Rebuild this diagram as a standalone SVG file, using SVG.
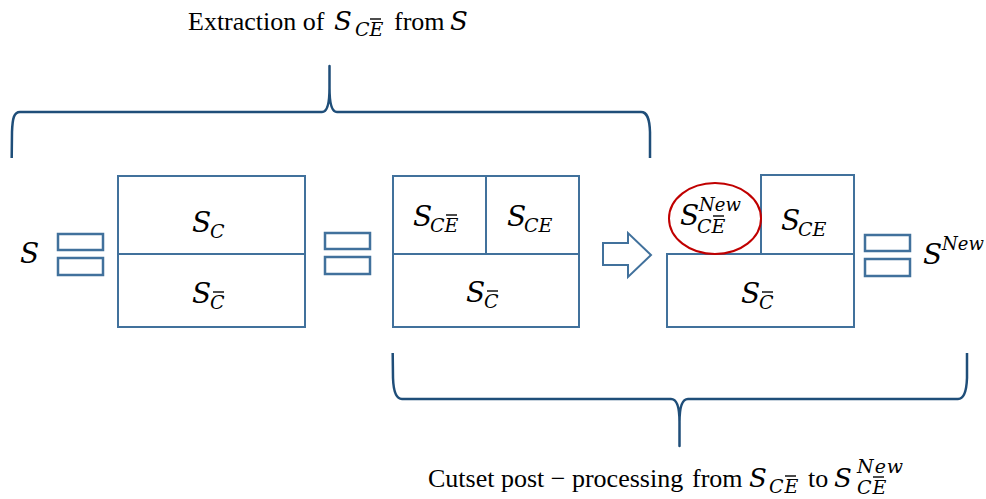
<svg xmlns="http://www.w3.org/2000/svg" width="986" height="499" viewBox="0 0 986 499">
  <style>
    .box { fill: #ffffff; stroke: #41719c; stroke-width: 2; }
    .eq { fill: #ffffff; stroke: #41719c; stroke-width: 2.5; }
    .brace { fill: none; stroke: #1f4e79; stroke-width: 2.5; stroke-linejoin: round; }
    .lbl { font-family: "Liberation Serif", "Times New Roman", serif; font-size: 26px; fill: #000; }
    .m { font-family: "DejaVu Serif", "Liberation Serif", serif; font-style: italic; fill: #000; }
    .big { font-size: 28px; }
    .cap { font-size: 26px; }
    .sub { font-size: 19px; }
    .sup { font-size: 18px; }
    .bar { stroke: #000; stroke-width: 1.4; }
  </style>

  <!-- captions -->
  <g id="caption-top">
    <text class="lbl" x="188" y="30">Extraction of</text>
    <text class="m cap" x="334" y="30">S</text>
    <text class="m sub" x="355" y="36">CE</text>
    <line class="bar" x1="370" y1="19" x2="381" y2="19"/>
    <text class="lbl" x="394" y="30">from</text>
    <text class="m cap" x="450" y="30">S</text>
  </g>

  <g id="caption-bottom">
    <text class="lbl" x="428" y="487">Cutset post − processing</text>
    <text class="lbl" x="692" y="487">from</text>
    <text class="m cap" x="749" y="487">S</text>
    <text class="m sub" x="769" y="493" letter-spacing="1">CE</text>
    <line class="bar" x1="785" y1="476" x2="796" y2="476"/>
    <text class="lbl" x="808" y="487">to</text>
    <text class="m cap" x="834" y="487">S</text>
    <text class="m sub" x="857" y="473" font-size="20" letter-spacing="1">New</text>
    <text class="m sub" x="857" y="494" letter-spacing="1">CE</text>
    <line class="bar" x1="873" y1="477" x2="884" y2="477"/>
  </g>

  <!-- S -->
  <g id="set-s">
    <text class="m big" x="20" y="263">S</text>
  </g>

  <g id="eq-1">
    <rect class="eq" x="58" y="234" width="45" height="16"/>
    <rect class="eq" x="58" y="258" width="45" height="17"/>
  </g>

  <!-- S split into S_C and S_C-bar -->
  <g id="box-1">
    <rect class="box" x="118" y="176" width="187" height="151"/>
    <line class="box" x1="118" y1="254" x2="305" y2="254"/>
    <text class="m big" x="192" y="232">S</text>
    <text class="m sub" x="210" y="238">C</text>
    <text class="m big" x="192" y="303">S</text>
    <text class="m sub" x="210" y="309">C</text>
    <line class="bar" x1="213" y1="292" x2="224" y2="292"/>
  </g>

  <g id="eq-2">
    <rect class="eq" x="325" y="233" width="45" height="16"/>
    <rect class="eq" x="325" y="257" width="45" height="17"/>
  </g>

  <!-- S_C split into S_CE-bar and S_CE -->
  <g id="box-2">
    <rect class="box" x="393" y="176" width="186" height="151"/>
    <line class="box" x1="393" y1="254" x2="579" y2="254"/>
    <line class="box" x1="486" y1="176" x2="486" y2="254"/>
    <text class="m big" x="413" y="226">S</text>
    <text class="m sub" x="430" y="232">CE</text>
    <line class="bar" x1="446" y1="215" x2="457" y2="215"/>
    <text class="m big" x="507" y="226">S</text>
    <text class="m sub" x="524" y="232">CE</text>
    <text class="m big" x="466" y="302">S</text>
    <text class="m sub" x="484" y="308">C</text>
    <line class="bar" x1="487" y1="291" x2="498" y2="291"/>
  </g>

  <!-- result after post-processing -->
  <g id="box-3">
    <rect class="box" x="667" y="254" width="187" height="73"/>
    <rect class="box" x="761" y="175" width="93" height="79"/>
    <ellipse cx="715" cy="218.5" rx="46" ry="35.5" fill="#ffffff" stroke="#c00000" stroke-width="2"/>
    <text class="m big" x="680" y="225">S</text>
    <text class="m sup" x="699" y="211">New</text>
    <text class="m sub" x="697" y="233">CE</text>
    <line class="bar" x1="713" y1="216" x2="724" y2="216"/>
    <text class="m big" x="781" y="230">S</text>
    <text class="m sub" x="798" y="236">CE</text>
    <text class="m big" x="741" y="303">S</text>
    <text class="m sub" x="759" y="309">C</text>
    <line class="bar" x1="762" y1="292" x2="773" y2="292"/>
  </g>

  <g id="eq-3">
    <rect class="eq" x="865" y="235" width="45" height="16"/>
    <rect class="eq" x="865" y="259" width="45" height="17"/>
  </g>

  <g id="set-s-new">
    <text class="m big" x="923" y="264">S</text>
    <text class="m sup" x="942" y="250">New</text>
  </g>

  <g id="connectors">
    <!-- block arrow -->
    <polygon class="box" points="603,243 628,243 628,233 651,255 628,277 628,265 603,265"/>
    <!-- upper brace -->
    <path class="brace" d="M11.7 158 L12 132 C12.5 118 14 112 20 112 L322 112 C327 112 329.5 104 329.5 88 L329.5 66 L329.5 88 C329.5 104 332 112 337 112 L641 112 C647 112 649.5 118 650 132 L650 158"/>
    <!-- lower brace -->
    <path class="brace" d="M392.7 353 L393 378 C393.5 392 396 399 402 399 L671 399 C676 399 679.5 406 679.5 422 L679.5 446 L679.5 422 C679.5 406 683 399 688 399 L958 399 C964 399 966.5 392 967 378 L967 353"/>
  </g>
</svg>
